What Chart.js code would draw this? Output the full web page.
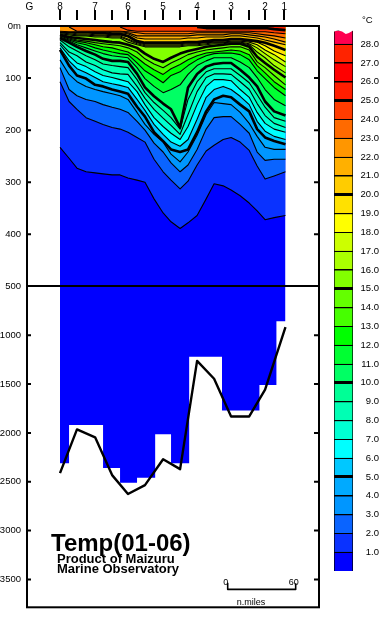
<!DOCTYPE html>
<html>
<head>
<meta charset="utf-8">
<title>Temp(01-06)</title>
<script src="https://cdn.jsdelivr.net/npm/chart.js@4/dist/chart.umd.min.js"></script>
<style>
  body { margin: 0; background: #fff; }
  canvas { position: absolute; top: 0; }
  #seccion { left: 0; }
  #barra { left: 320px; }
</style>
</head>
<body>
<canvas id="seccion" width="320" height="618"></canvas>
<canvas id="barra" width="63" height="618"></canvas>
<script>
// distance along the section (n.miles from station 8), one column per contour value
const distancias = [0, 8, 15, 23, 31, 38, 46, 53, 60, 68, 75, 83, 91, 98, 106, 113, 121, 129, 136, 144, 151, 159, 167, 174, 181, 189, 199];

// isotherm depths in metres
const iso1 = [233, 254, 273, 280, 282, 284, 286, 286, 292, 296, 300, 332, 359, 376, 389, 378, 364, 332, 303, 307, 315, 326, 340, 355, 372, 368, 364];
const iso2 = [107, 145, 160, 176, 183, 189, 195, 198, 204, 214, 223, 256, 280, 296, 313, 298, 267, 240, 229, 218, 214, 223, 239, 269, 294, 288, 280];
const iso3 = [80, 122, 134, 141, 145, 151, 156, 160, 166, 183, 200, 225, 242, 263, 280, 267, 237, 198, 176, 174, 174, 189, 206, 242, 258, 256, 256];
const iso4 = [65, 93, 107, 116, 122, 126, 130, 134, 141, 166, 189, 208, 223, 246, 261, 242, 210, 170, 147, 149, 151, 166, 187, 212, 233, 237, 237];
const iso5 = [46, 76, 95, 101, 113, 116, 122, 126, 130, 155, 174, 204, 221, 237, 242, 237, 204, 164, 141, 134, 137, 151, 164, 198, 214, 221, 227];
const iso6 = [42, 67, 82, 90, 99, 107, 111, 114, 118, 141, 162, 189, 208, 223, 231, 218, 179, 137, 122, 116, 122, 135, 151, 183, 202, 212, 218];
const iso7 = [36, 57, 71, 78, 88, 95, 99, 103, 107, 126, 151, 176, 193, 206, 218, 193, 151, 116, 103, 103, 105, 122, 137, 166, 187, 198, 204];
const iso8 = [32, 50, 57, 69, 76, 84, 90, 92, 93, 116, 139, 160, 177, 191, 208, 170, 126, 99, 92, 92, 93, 107, 122, 149, 172, 187, 195];
const iso9 = [27, 40, 48, 57, 65, 73, 76, 78, 80, 103, 128, 147, 162, 176, 198, 141, 107, 88, 82, 82, 82, 95, 109, 132, 156, 176, 183];
const iso10 = [23, 32, 40, 48, 55, 63, 67, 67, 69, 92, 118, 135, 149, 160, 195, 118, 92, 78, 73, 71, 71, 84, 99, 116, 145, 164, 172];
const iso11 = [21, 29, 36, 42, 48, 53, 57, 59, 61, 80, 101, 116, 128, 122, 113, 93, 76, 67, 61, 61, 61, 69, 80, 99, 122, 141, 153];
const iso12 = [21, 27, 32, 36, 42, 46, 50, 53, 55, 71, 86, 97, 109, 95, 88, 76, 65, 57, 53, 52, 52, 55, 65, 86, 101, 118, 134];
const iso13 = [19, 25, 29, 32, 36, 40, 42, 46, 50, 61, 73, 84, 93, 82, 74, 65, 57, 52, 50, 48, 46, 48, 55, 76, 90, 107, 122];
const iso14 = [19, 23, 27, 29, 32, 34, 36, 38, 42, 50, 63, 73, 80, 71, 63, 55, 50, 46, 44, 42, 40, 40, 46, 69, 80, 95, 113];
const iso15 = [17, 21, 23, 25, 27, 29, 31, 32, 36, 42, 53, 63, 69, 61, 53, 48, 44, 40, 38, 36, 34, 34, 40, 59, 71, 84, 99];
const iso16 = [15, 17, 19, 19, 21, 21, 23, 23, 31, 36, 40, 40, 40, 40, 40, 38, 38, 36, 34, 34, 32, 32, 36, 50, 61, 76, 90];
const iso17 = [13, 15, 17, 17, 19, 19, 21, 21, 27, 34, 38, 38, 38, 38, 38, 36, 36, 34, 32, 32, 31, 31, 34, 42, 53, 65, 78];
const iso18 = [13, 13, 15, 15, 17, 17, 19, 19, 25, 32, 36, 36, 36, 36, 36, 34, 34, 32, 31, 31, 29, 29, 31, 36, 46, 55, 69];
const iso19 = [13, 13, 13, 13, 15, 15, 17, 17, 21, 31, 34, 34, 34, 34, 34, 32, 32, 31, 29, 29, 27, 27, 29, 31, 38, 48, 57];
const iso20 = [11, 11, 11, 11, 13, 13, 15, 15, 19, 29, 32, 32, 32, 32, 32, 31, 31, 29, 27, 27, 25, 25, 27, 29, 32, 38, 46];
const iso21 = [11, 11, 11, 11, 11, 11, 13, 13, 15, 23, 25, 25, 25, 25, 25, 23, 23, 21, 21, 21, 19, 19, 21, 23, 27, 31, 36];
const iso22 = [10, 11, 11, 11, 11, 11, 11, 11, 13, 19, 19, 19, 19, 19, 19, 19, 17, 17, 17, 17, 15, 15, 17, 19, 21, 25, 31];
const iso23 = [null, 2, 10, 10, 10, 10, 10, 10, 11, 13, 15, 15, 15, 15, 15, 15, 13, 13, 13, 13, 13, 13, 13, 15, 17, 19, 23];
const iso24 = [null, null, null, null, null, null, null, 2, 8, 10, 10, 10, 10, 10, 10, 10, 10, 10, 10, 10, 10, 10, 10, 11, 11, 13, 15];
const iso25 = [null, null, null, null, null, null, null, null, null, null, null, null, null, null, null, null, 2, 4, 4, 4, 4, 4, 4, 4, 4, 6, 8];
const isotermas = [iso1, iso2, iso3, iso4, iso5, iso6, iso7, iso8, iso9, iso10, iso11, iso12, iso13, iso14, iso15, iso16, iso17, iso18, iso19, iso20, iso21, iso22, iso23, iso24, iso25];

// colour of each band of the scale: below 1 degree, 1-2, 2-3 ... 27-28, above 28
const coloresBanda = ['#0000ff', '#0a32ff', '#0a64ff', '#0096ff', '#00aaff', '#00c8ff', '#00ffff', '#00ffd2', '#00ffb4', '#00ff96', '#00ff64', '#00ff32', '#00ff00', '#46ff00', '#64ff00', '#82ff00', '#aaff00', '#ccff00', '#ffff00', '#ffe100', '#ffcc00', '#ffb000', '#ff9600', '#ff6a00', '#ff3c00', '#ff1e00', '#ff0000', '#ff2300', '#ff0050'];

// sampled water column: each cell starts at the distance and reaches the depth
const celdasX = [0, 8, 38, 53, 68, 84, 98, 114, 143, 176, 191, 199];
const celdasFondo = [2310, 1920, 2360, 2510, 2460, 2015, 2310, 1220, 1770, 1510, 856, 856];

// sea bed under the section
const fondoX = [0, 15, 31, 46, 60, 75, 91, 106, 121, 136, 151, 167, 181, 199];
const fondoProf = [2412, 1964, 2045, 2432, 2625, 2534, 2270, 2371, 1263, 1446, 1832, 1832, 1558, 917];

// axes
const marcasEstacion = [0, 15, 31, 46, 60, 75, 91, 106, 121, 136, 151, 167, 181, 198];
const etiquetasEstacion = ['8', '', '7', '', '6', '', '5', '', '4', '', '3', '', '2', '1'];
const marcaG = -27;
const ticksProf = [0, 100, 200, 300, 400, 500, 1000, 1500, 2000, 2500, 3000, 3500];
const ticksTemp = [1, 2, 3, 4, 5, 6, 7, 8, 9, 10, 11, 12, 13, 14, 15, 16, 17, 18, 19, 20, 21, 22, 23, 24, 25, 26, 27, 28];

// scale bar, 60 n.miles long, placed with the distance axis
const barraEscalaX = [148, 148, 208, 208];
const barraEscalaY = [3540, 3602, 3602, 3540];

const fuente = '"Liberation Sans", Arial, sans-serif';
const CORTE = 500;
const FRACCION_CORTE = 262 / 585;

// depth axis with two linear parts: 0-500 m is stretched
class EscalaProfundidad extends Chart.LinearScale {
  getPixelForValue(v) {
    const alto = this.bottom - this.top;
    if (v <= CORTE) return this.top + (v / CORTE) * FRACCION_CORTE * alto;
    return this.top + (FRACCION_CORTE + (v - CORTE) / (this.max - CORTE) * (1 - FRACCION_CORTE)) * alto;
  }
  getValueForPixel(p) {
    const f = (p - this.top) / (this.bottom - this.top);
    if (f <= FRACCION_CORTE) return f / FRACCION_CORTE * CORTE;
    return CORTE + (f - FRACCION_CORTE) / (1 - FRACCION_CORTE) * (this.max - CORTE);
  }
}
EscalaProfundidad.id = 'profundidad';
EscalaProfundidad.defaults = Chart.LinearScale.defaults;
Chart.register(EscalaProfundidad);

// Datasets: painted cold to warm, each one fills from its line up to the surface
const datasetsSeccion = [{
  label: 'columna',
  data: celdasX.map((x, i) => ({x, y: celdasFondo[i]})),
  stepped: 'before',
  fill: {value: 0},
  backgroundColor: coloresBanda[0],
  borderWidth: 0,
  order: 100
}];

isotermas.forEach((prof, i) => {
  const t = i + 1;
  datasetsSeccion.push({
    label: t + ' C',
    data: distancias.map((x, j) => ({x, y: prof[j]})),
    fill: {value: 0},
    backgroundColor: coloresBanda[t],
    borderColor: '#000',
    borderWidth: t % 5 === 0 ? 2.6 : 1.1,
    order: 100 - t
  });
});

datasetsSeccion.push({
  label: 'fondo',
  data: fondoX.map((x, i) => ({x, y: fondoProf[i]})),
  borderColor: '#000',
  borderWidth: 2.4,
  fill: false,
  order: 1
});

datasetsSeccion.push({
  label: 'escala',
  data: barraEscalaX.map((x, i) => ({x, y: barraEscalaY[i]})),
  borderColor: '#000',
  borderWidth: 1.6,
  fill: false,
  order: 1
});

// Frame, inward ticks and the notes written on the section
const adornos = {
  id: 'adornos',
  afterDraw(chart) {
    const {ctx, chartArea: a, scales} = chart;
    ctx.save();
    ctx.strokeStyle = '#000';
    ctx.lineWidth = 2;
    ctx.strokeRect(a.left + 1, a.top, a.right - a.left, a.bottom - a.top);
    ctx.lineWidth = 2;
    ctx.beginPath();
    scales.y.ticks.forEach(t => {
      if (t.value === 0 || t.value === CORTE) return;
      const p = scales.y.getPixelForValue(t.value);
      ctx.moveTo(a.left, p);
      ctx.lineTo(a.left + 5, p);
      ctx.moveTo(a.right - 4, p);
      ctx.lineTo(a.right + 1, p);
    });
    marcasEstacion.forEach(m => {
      const p = Math.round(scales.x.getPixelForValue(m));
      ctx.moveTo(p, 10);
      ctx.lineTo(p, 20);
    });
    ctx.stroke();

    ctx.fillStyle = '#000';
    ctx.textBaseline = 'alphabetic';
    ctx.textAlign = 'left';
    ctx.font = 'bold 24px ' + fuente;
    ctx.fillText('Temp(01-06)', 51, 551);
    ctx.font = 'bold 13px ' + fuente;
    ctx.fillText('Product of Maizuru', 57, 563);
    ctx.fillText('Marine Observatory', 57, 573);

    ctx.font = '9px ' + fuente;
    ctx.textAlign = 'center';
    ctx.fillText('0', scales.x.getPixelForValue(barraEscalaX[0]) - 2, 585);
    ctx.fillText('60', scales.x.getPixelForValue(barraEscalaX[2]) - 2, 585);
    ctx.fillText('n.miles', 251, 605);
    ctx.restore();
  }
};

new Chart(document.getElementById('seccion').getContext('2d'), {
  type: 'line',
  data: {datasets: datasetsSeccion},
  options: {
    responsive: false,
    animation: false,
    devicePixelRatio: 1,
    layout: {padding: {right: 2, bottom: 7}},
    elements: {point: {radius: 0}, line: {tension: 0, borderJoinStyle: 'round'}},
    plugins: {legend: {display: false}, tooltip: {enabled: false}},
    scales: {
      x: {
        type: 'linear',
        position: 'top',
        min: -30,
        max: 227.7,
        grid: {display: false, drawTicks: false},
        border: {display: false},
        afterBuildTicks: s => { s.ticks = [marcaG, ...marcasEstacion].map(value => ({value})); },
        afterFit: s => { s.height = 26; },
        ticks: {
          autoSkip: false,
          maxRotation: 0,
          padding: 13,
          color: '#000',
          font: {family: fuente, size: 10},
          callback: v => v === marcaG ? 'G' : etiquetasEstacion[marcasEstacion.indexOf(v)]
        }
      },
      y: {
        type: 'profundidad',
        min: 0,
        max: 3785,
        grid: {
          z: 1,
          drawTicks: false,
          lineWidth: 2,
          color: c => c.tick && c.tick.value === CORTE ? '#000' : 'transparent'
        },
        border: {display: false},
        afterBuildTicks: s => { s.ticks = ticksProf.map(value => ({value})); },
        afterFit: s => { s.width = 26; },
        ticks: {
          autoSkip: false,
          padding: 5,
          color: '#000',
          font: {family: fuente, size: 9.5},
          callback: v => v === 0 ? '0m' : String(v)
        }
      }
    }
  },
  plugins: [adornos]
});

// Colour scale on its own small chart
const notaBarra = {
  id: 'notaBarra',
  afterDraw(chart) {
    const {ctx, chartArea: a} = chart;
    ctx.save();
    ctx.fillStyle = '#000';
    ctx.font = '9.5px ' + fuente;
    ctx.textAlign = 'left';
    ctx.fillText('°C', 42, 23);
    // wavy top of the bar
    const ancho = a.right - a.left;
    ctx.beginPath();
    ctx.moveTo(a.left - 1, a.top - 2);
    ctx.lineTo(a.left - 1, a.top + 2);
    ctx.quadraticCurveTo(a.left + ancho * 0.3, a.top - 2, a.left + ancho * 0.62, a.top + 4);
    ctx.quadraticCurveTo(a.left + ancho * 0.82, a.top + 3, a.right + 1, a.top);
    ctx.lineTo(a.right + 1, a.top - 2);
    ctx.closePath();
    ctx.fillStyle = '#fff';
    ctx.fill();
    ctx.restore();
  }
};

new Chart(document.getElementById('barra').getContext('2d'), {
  type: 'bar',
  data: {
    labels: [''],
    datasets: coloresBanda.map((c, i) => ({
      label: i + ' C',
      data: [i < 28 ? 1 : 0.75],
      backgroundColor: c,
      borderColor: '#000',
      borderWidth: 1,
      categoryPercentage: 1,
      barPercentage: 1
    }))
  },
  options: {
    responsive: false,
    animation: false,
    devicePixelRatio: 1,
    layout: {padding: {left: 14, top: 30, right: 4, bottom: 47}},
    plugins: {legend: {display: false}, tooltip: {enabled: false}},
    scales: {
      x: {stacked: true, display: false},
      y: {
        stacked: true,
        position: 'right',
        min: 0,
        max: 28.75,
        grid: {
          z: 1,
          drawTicks: false,
          color: '#000',
          lineWidth: c => c.tick && c.tick.value % 5 === 0 ? 3 : 1
        },
        border: {display: false},
        afterBuildTicks: s => { s.ticks = ticksTemp.map(value => ({value})); },
        afterFit: s => { s.width = 26; },
        ticks: {
          autoSkip: false,
          crossAlign: 'far',
          padding: 5,
          color: '#000',
          font: {family: fuente, size: 9.5},
          callback: v => v.toFixed(1)
        }
      }
    }
  },
  plugins: [notaBarra]
});
</script>
</body>
</html>
